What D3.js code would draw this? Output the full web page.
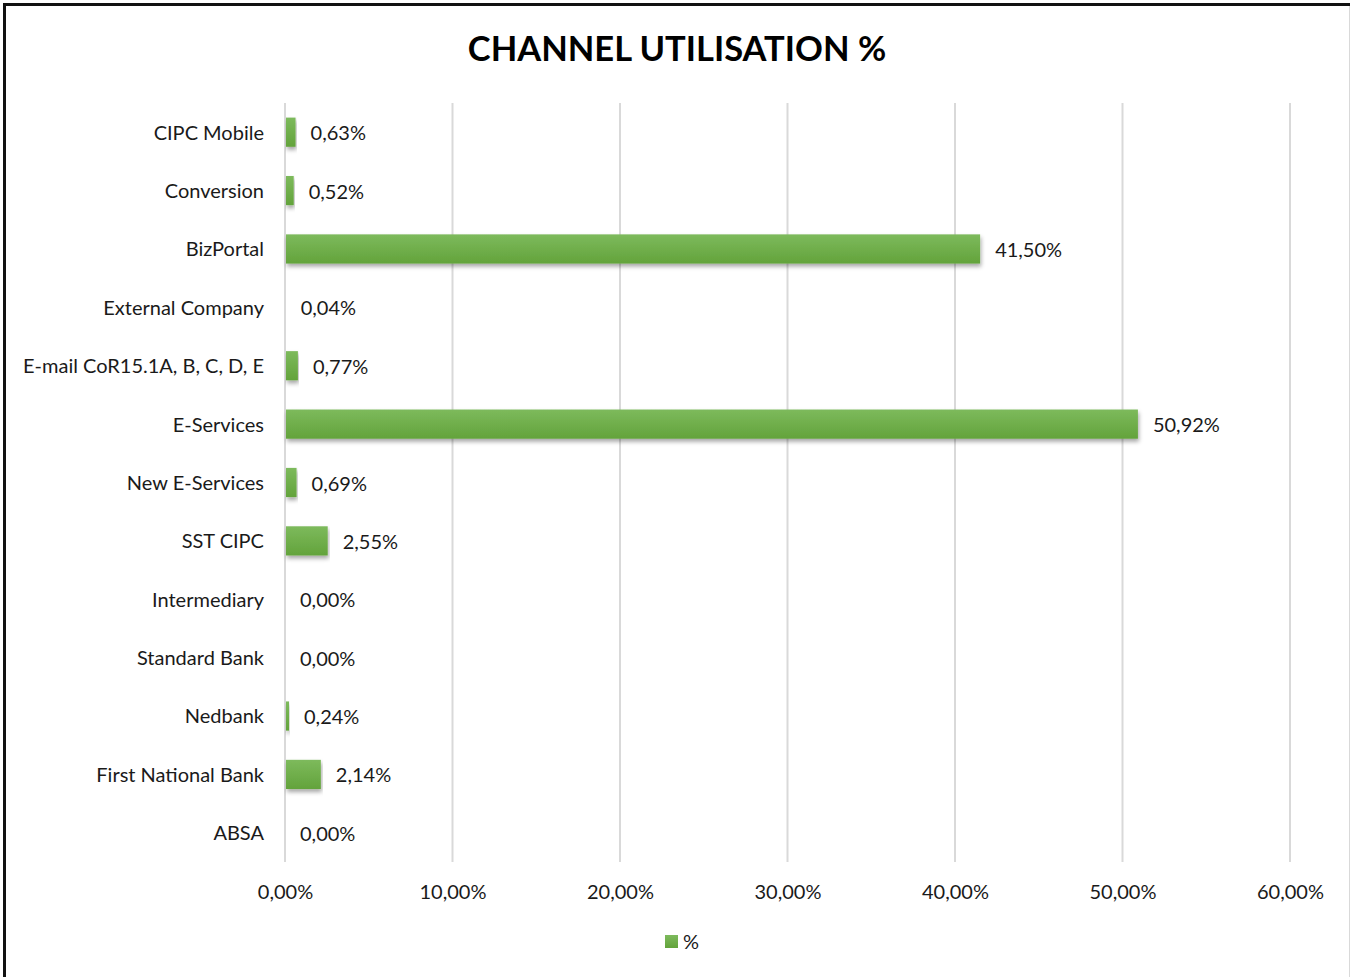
<!DOCTYPE html>
<html><head><meta charset="utf-8">
<script src="https://cdn.jsdelivr.net/npm/d3@7"></script>
<style>body{margin:0;background:#fff}svg{display:block}text{font-family:Lato,"Noto Sans",sans-serif}</style>
</head><body>
<svg id="c" width="1350" height="977"></svg>
<script>
const categories = ["CIPC Mobile","Conversion","BizPortal","External Company","E-mail CoR15.1A, B, C, D, E","E-Services","New E-Services","SST CIPC","Intermediary","Standard Bank","Nedbank","First National Bank","ABSA"];
const values = [0.63,0.52,41.50,0.04,0.77,50.92,0.69,2.55,0.00,0.00,0.24,2.14,0.00];
const tickValues = [0,10,20,30,40,50,60];
const seriesName = "%";
const title = "CHANNEL UTILISATION %";

const fmt = v => v.toFixed(2).replace(".", ",") + "%";
const svg = d3.select("#c");
const defs = svg.append("defs");
const g1 = defs.append("linearGradient").attr("id","bg").attr("x1",0).attr("x2",0).attr("y1",0).attr("y2",1);
g1.append("stop").attr("offset","0%").attr("stop-color","#7dba5c");
g1.append("stop").attr("offset","100%").attr("stop-color","#63a33b");
const f = defs.append("filter").attr("id","sh").attr("x","-5%").attr("y","-30%").attr("width","110%").attr("height","180%");
f.append("feDropShadow").attr("dx",1).attr("dy",3).attr("stdDeviation",2).attr("flood-color","#000").attr("flood-opacity",0.35);

// frame
svg.append("line").attr("x1",4).attr("x2",1350).attr("y1",4.5).attr("y2",4.5).attr("stroke","#111").attr("stroke-width",3);
svg.append("line").attr("x1",4.5).attr("x2",4.5).attr("y1",3).attr("y2",977).attr("stroke","#111").attr("stroke-width",3);
svg.append("line").attr("x1",1349.5).attr("x2",1349.5).attr("y1",6).attr("y2",977).attr("stroke","#d9d9d9").attr("stroke-width",1);

const x = d3.scaleLinear().domain([0,60]).range([285,1290]);
const y = d3.scaleBand().domain(categories).range([103,862]).paddingInner(0.5).paddingOuter(0.25);

// grid
svg.append("g").selectAll("line").data(tickValues).join("line")
  .attr("x1",d=>x(d)).attr("x2",d=>x(d)).attr("y1",103).attr("y2",862)
  .attr("stroke","#d9d9d9").attr("stroke-width",2);

// x axis labels
const xa = svg.append("g").attr("transform","translate(0,862)")
  .call(d3.axisBottom(x).tickValues(tickValues).tickFormat(d=>fmt(d)).tickSize(0).tickPadding(23));
xa.select(".domain").remove();
xa.selectAll("text").attr("font-size",20).attr("fill","#1a1a1a").attr("font-family","Lato,sans-serif");

// y axis labels
const ya = svg.append("g").attr("transform","translate(264,1)")
  .call(d3.axisLeft(y).tickSize(0).tickPadding(0));
ya.select(".domain").remove();
ya.selectAll("text").attr("font-size",20).attr("fill","#1a1a1a").attr("font-family","Lato,sans-serif");

// bars
svg.append("g").selectAll("rect").data(values).join("rect")
  .attr("x",x(0)+1).attr("y",(d,i)=>y(categories[i]))
  .attr("width",d=>Math.max(0,x(d)-x(0)-1)).attr("height",y.bandwidth())
  .attr("fill","url(#bg)").attr("filter","url(#sh)");

// value labels
svg.append("g").selectAll("text").data(values).join("text")
  .attr("x",d=>x(d)+15).attr("y",(d,i)=>y(categories[i])+y.bandwidth()/2+1)
  .attr("dy","0.35em").attr("font-size",20).attr("fill","#1a1a1a").text(d=>fmt(d));

// title
svg.append("text").attr("x",677).attr("y",61).attr("text-anchor","middle")
  .attr("font-size",34.5).attr("font-weight","bold").attr("fill","#000").text(title);

// legend
svg.append("rect").attr("x",665).attr("y",935).attr("width",13).attr("height",13).attr("fill","url(#bg)");
svg.append("text").attr("x",683).attr("y",942).attr("dy","0.35em").attr("font-size",20).attr("fill","#1a1a1a").text(seriesName);
</script>
</body></html>
